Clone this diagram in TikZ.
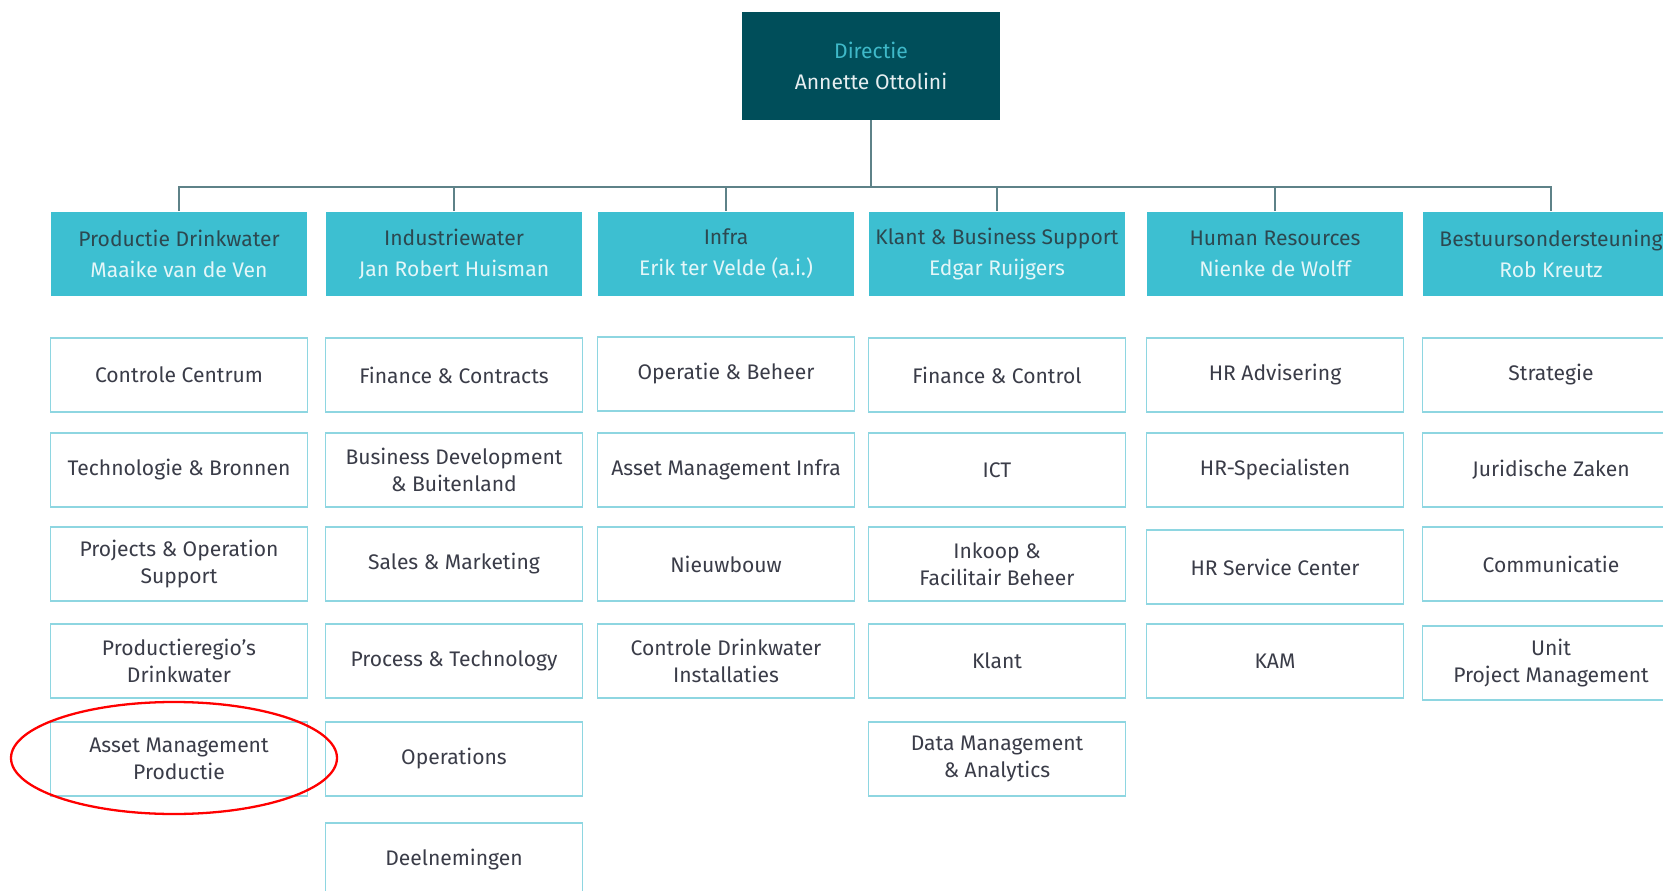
\documentclass[tikz,border=0pt]{standalone}
\usepackage{fontspec}
\setmainfont{Fira Sans}
\usetikzlibrary{positioning}
\definecolor{dirbg}{HTML}{004E5A}
\definecolor{dirtxt}{HTML}{3FB9C9}
\definecolor{dirname}{HTML}{E6EEF0}
\definecolor{deptbg}{HTML}{3DBFD1}
\definecolor{deptdark}{HTML}{2C4850}
\definecolor{deptlight}{HTML}{E4F6F8}
\definecolor{unitline}{HTML}{8ED6E1}
\definecolor{unittxt}{HTML}{3A3C48}
\definecolor{linkgray}{HTML}{5E8288}
\begin{document}
\begin{tikzpicture}[x=0.02cm, y=-0.02cm,
    dir/.style={fill=dirbg, draw=none, minimum width=5.16cm, minimum height=2.16cm, align=center, font=\fontsize{12}{17.5}\selectfont},
    dept/.style={fill=deptbg, draw=none, minimum width=5.14cm, minimum height=1.7cm, align=center, font=\fontsize{12}{17.5}\selectfont},
    unit/.style={draw=unitline, line width=0.9pt, fill=white, minimum width=5.14cm, minimum height=1.48cm, align=center, text=unittxt, font=\fontsize{12}{15.5}\selectfont},
    link/.style={draw=linkgray, line width=0.8pt}]
\useasboundingbox (0,0) rectangle (1663,891);
\clip (0,0) rectangle (1663,891);

% Directie
\node[dir] (dir) at (871,66) {\color{dirtxt}Directie\\\color{dirname}Annette Ottolini};

% Afdelingen
\node[dept] (hPD) at (179,254) {\color{deptdark}Productie Drinkwater\\\color{deptlight}Maaike van de Ven};
\node[dept] (hIW) at (454,254) {\color{deptdark}Industriewater\\\color{deptlight}Jan Robert Huisman};
\node[dept] (hIN) at (726,254) {\color{deptdark}Infra\\\color{deptlight}Erik ter Velde (a.i.)};
\node[dept] (hKB) at (997,254) {\color{deptdark}Klant \& Business Support\\\color{deptlight}Edgar Ruijgers};
\node[dept] (hHR) at (1275,254) {\color{deptdark}Human Resources\\\color{deptlight}Nienke de Wolff};
\node[dept] (hBO) at (1551,254) {\color{deptdark}Bestuursondersteuning\\\color{deptlight}Rob Kreutz};

% Lijnen naar de afdelingen
\coordinate (bus) at (871,187);
\draw[link] (dir.south) -- (bus);
\foreach \h in {hPD,hIW,hIN,hKB,hHR,hBO}
    \draw[link] (\h.north) |- (bus);

% Productie Drinkwater
\node[unit] (pd1) at (179,375) {Controle Centrum};
\node[unit] (pd2) at (179,470) {Technologie \& Bronnen};
\node[unit] (pd3) at (179,564) {Projects \& Operation\\Support};
\node[unit] (pd4) at (179,661) {Productieregio's\\Drinkwater};
\node[unit] (pd5) at (179,759) {Asset Management\\Productie};

% Industriewater
\node[unit] (iw1) at (454,375) {Finance \& Contracts};
\node[unit] (iw2) at (454,470) {Business Development\\\& Buitenland};
\node[unit] (iw3) at (454,564) {Sales \& Marketing};
\node[unit] (iw4) at (454,661) {Process \& Technology};
\node[unit] (iw5) at (454,759) {Operations};
\node[unit] (iw6) at (454,860) {Deelnemingen};

% Infra
\node[unit] (in1) at (726,374) {Operatie \& Beheer};
\node[unit] (in2) at (726,470) {Asset Management Infra};
\node[unit] (in3) at (726,564) {Nieuwbouw};
\node[unit] (in4) at (726,661) {Controle Drinkwater\\Installaties};

% Klant & Business Support
\node[unit] (kb1) at (997,375) {Finance \& Control};
\node[unit] (kb2) at (997,470) {ICT};
\node[unit] (kb3) at (997,564) {Inkoop \&\\Facilitair Beheer};
\node[unit] (kb4) at (997,661) {Klant};
\node[unit] (kb5) at (997,759) {Data Management\\\& Analytics};

% Human Resources
\node[unit] (hr1) at (1275,375) {HR Advisering};
\node[unit] (hr2) at (1275,470) {HR-Specialisten};
\node[unit] (hr3) at (1275,567) {HR Service Center};
\node[unit] (hr4) at (1275,661) {KAM};

% Bestuursondersteuning
\node[unit] (bo1) at (1551,375) {Strategie};
\node[unit] (bo2) at (1551,470) {Juridische Zaken};
\node[unit] (bo3) at (1551,564) {Communicatie};
\node[unit] (bo4) at (1551,663) {Unit\\Project Management};

% Markering
\draw[red, line width=1.3pt] (pd5.center) ++(-5,-1) ellipse [x radius=163, y radius=56];
\end{tikzpicture}
\end{document}
